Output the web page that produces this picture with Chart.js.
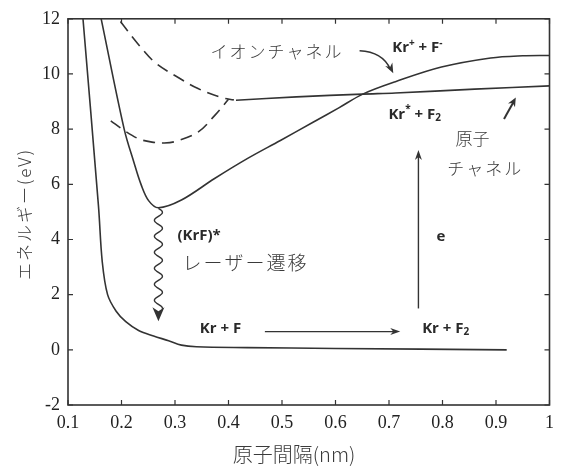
<!DOCTYPE html>
<html lang="ja">
<head>
<meta charset="utf-8">
<title>KrF ポテンシャル曲線</title>
<script src="https://cdn.jsdelivr.net/npm/chart.js@4.4.1/dist/chart.umd.min.js"></script>
<style>
  html, body { margin: 0; padding: 0; background: #fff; }
  #wrap { width: 561px; height: 467px; }
</style>
</head>
<body>
<div id="wrap"><canvas id="chart" width="561" height="467"></canvas></div>
<script>
// values: x = atomic distance (nm), y = energy (eV)
const xTicks = [0.1, 0.2, 0.3, 0.4, 0.5, 0.6, 0.7, 0.8, 0.9, 1];
const yTicks = [-2, 0, 2, 4, 6, 8, 10, 12];

// Kr + F ground state (repulsive)
const groundX = [0.128, 0.157, 0.164, 0.174, 0.19, 0.208, 0.232, 0.26, 0.288, 0.312, 0.34, 0.435, 0.6, 0.92];
const groundY = [12, 5.2, 3.2, 2.0, 1.4, 1.02, 0.7, 0.5, 0.33, 0.17, 0.11, 0.08, 0.05, 0.0];

// (KrF)* ionic curve
const ionX = [0.162, 0.205, 0.223, 0.237, 0.251, 0.269, 0.312, 0.374, 0.435, 0.497, 0.558, 0.607, 0.651, 0.712, 0.798, 0.89, 0.95, 1.0];
const ionY = [12, 8.0, 6.81, 5.97, 5.4, 5.15, 5.43, 6.21, 6.93, 7.59, 8.25, 8.78, 9.27, 9.72, 10.25, 10.58, 10.66, 10.67];

// Kr* + F2 atomic channel (solid part)
const atomX = [0.414, 0.527, 0.651, 0.712, 0.86, 1.0];
const atomY = [9.05, 9.17, 9.27, 9.31, 9.45, 9.57];

// dashed curves
const dashUpX = [0.198, 0.232, 0.263, 0.306, 0.343, 0.386, 0.41];
const dashUpY = [11.9, 11.06, 10.41, 9.87, 9.47, 9.15, 9.06];
const dashLowX = [0.18, 0.205, 0.232, 0.257, 0.28, 0.3, 0.343, 0.374, 0.4];
const dashLowY = [8.3, 7.95, 7.65, 7.53, 7.5, 7.55, 7.89, 8.49, 9.08];

const INK = '#333333';
const JP = '"Noto Sans CJK JP", "Noto Sans", sans-serif';
const BOLD = 'bold 15px "Open Sans", "Liberation Sans", sans-serif';
const BOLD_SMALL = 'bold 10px "Open Sans", "Liberation Sans", sans-serif';

// tick labels use a Times-like face
Chart.defaults.font.family = "'Liberation Serif', 'Times New Roman', serif";
Chart.defaults.font.size = 18;
Chart.defaults.color = '#222';

function points(xs, ys) {
    return xs.map((x, i) => ({ x: x, y: ys[i] }));
}

function curve(xs, ys, dashed) {
    return {
        data: points(xs, ys),
        borderColor: INK,
        borderWidth: 1.6,
        borderDash: dashed ? [12, 7] : [],
        pointRadius: 0,
        tension: 0.35,
        fill: false
    };
}

/**
 * Draw a filled arrow head with its tip at (x, y)
 */
function arrowHead(ctx, x, y, angle, len, half) {
    ctx.save();
    ctx.translate(x, y);
    ctx.rotate(angle);
    ctx.beginPath();
    ctx.moveTo(0, 0);
    ctx.lineTo(-len, -half);
    ctx.lineTo(-len * 0.7, 0);
    ctx.lineTo(-len, half);
    ctx.closePath();
    ctx.fill();
    ctx.restore();
}

/**
 * Bold label with superscripts / subscripts, centred on (cx, cy)
 */
function richText(ctx, parts, cx, cy) {
    let w = 0;
    parts.forEach(p => {
        ctx.font = (p.sup || p.sub) ? BOLD_SMALL : BOLD;
        w += ctx.measureText(p.t).width;
    });
    let x = cx - w / 2;
    ctx.textAlign = 'left';
    ctx.textBaseline = 'middle';
    parts.forEach(p => {
        ctx.font = (p.sup || p.sub) ? BOLD_SMALL : BOLD;
        const dy = p.sup ? -5 : (p.sub ? 4 : 0);
        ctx.fillText(p.t, x, cy + dy);
        x += ctx.measureText(p.t).width;
    });
}

function jpText(ctx, text, cx, cy, size, spacing) {
    ctx.font = '300 ' + size + 'px ' + JP;
    ctx.letterSpacing = spacing + 'px';
    ctx.textAlign = 'center';
    ctx.textBaseline = 'middle';
    ctx.fillText(text, cx + spacing / 2, cy);
    ctx.letterSpacing = '0px';
}

const figurePlugin = {
    id: 'figure',
    afterDatasetsDraw(chart) {
        const ctx = chart.ctx;
        const { left, right, top, bottom } = chart.chartArea;
        const sx = chart.scales.x, sy = chart.scales.y;
        const P = (x, y) => [sx.getPixelForValue(x), sy.getPixelForValue(y)];

        ctx.save();
        ctx.strokeStyle = INK;
        ctx.fillStyle = INK;

        // frame with inward ticks on all four sides
        ctx.lineWidth = 1.6;
        ctx.strokeRect(left, top, right - left, bottom - top);
        ctx.lineWidth = 1.2;
        ctx.beginPath();
        xTicks.forEach(v => {
            const x = sx.getPixelForValue(v);
            ctx.moveTo(x, bottom); ctx.lineTo(x, bottom - 5);
            ctx.moveTo(x, top); ctx.lineTo(x, top + 5);
        });
        yTicks.forEach(v => {
            const y = sy.getPixelForValue(v);
            ctx.moveTo(left, y); ctx.lineTo(left + 5, y);
            ctx.moveTo(right, y); ctx.lineTo(right - 5, y);
        });
        ctx.stroke();

        // wavy laser transition arrow
        const [wx, wTop] = P(0.269, 5.13);
        const [, wTip] = P(0.269, 1.04);
        const headLen = 14;
        ctx.lineWidth = 1.4;
        ctx.beginPath();
        for (let y = wTop; y <= wTip - headLen + 2; y += 0.5) {
            const x = wx + 4 * Math.sin((y - wTop) / 16 * 2 * Math.PI);
            if (y === wTop) ctx.moveTo(x, y); else ctx.lineTo(x, y);
        }
        ctx.stroke();
        arrowHead(ctx, wx, wTip, Math.PI / 2, headLen, 6);

        // vertical arrow (e)
        const [ex, eLow] = P(0.755, 1.5);
        const [, eHigh] = P(0.755, 7.24);
        ctx.lineWidth = 1.4;
        ctx.beginPath();
        ctx.moveTo(ex, eLow); ctx.lineTo(ex, eHigh + 6);
        ctx.stroke();
        arrowHead(ctx, ex, eHigh, -Math.PI / 2, 10, 3.5);

        // horizontal arrow Kr + F -> Kr + F2
        const [hx0, hy] = P(0.468, 0.66);
        const [hx1] = P(0.721, 0.66);
        ctx.lineWidth = 1.2;
        ctx.beginPath();
        ctx.moveTo(hx0, hy); ctx.lineTo(hx1 - 6, hy);
        ctx.stroke();
        arrowHead(ctx, hx1, hy, 0, 10, 3.5);

        // curved arrow from イオンチャネル
        const [ax0, ay0] = P(0.645, 10.84);
        const [acx, acy] = P(0.688, 10.8);
        const [ax1, ay1] = P(0.708, 10.03);
        ctx.lineWidth = 1.5;
        ctx.beginPath();
        ctx.moveTo(ax0, ay0);
        ctx.quadraticCurveTo(acx, acy, ax1 - 3, ay1 - 4);
        ctx.stroke();
        arrowHead(ctx, ax1, ay1, Math.atan2(ay1 - acy, ax1 - acx), 10, 4);

        // short arrow from 原子チャネル
        const [bx0, by0] = P(0.915, 8.37);
        const [bx1, by1] = P(0.937, 9.15);
        ctx.lineWidth = 2;
        ctx.beginPath();
        ctx.moveTo(bx0, by0); ctx.lineTo(bx1 - 2, by1 + 4);
        ctx.stroke();
        arrowHead(ctx, bx1, by1, Math.atan2(by1 - by0, bx1 - bx0), 9, 4);

        // labels
        ctx.fillStyle = '#2a2a2a';
        richText(ctx, [{ t: 'Kr' }, { t: '+', sup: true }, { t: ' + F' }, { t: '-', sup: true }], ...P(0.753, 10.95));
        richText(ctx, [{ t: 'Kr' }, { t: '*', sup: true }, { t: ' + F' }, { t: '2', sub: true }], ...P(0.748, 8.54));
        richText(ctx, [{ t: '(KrF)*' }], ...P(0.345, 4.15));
        richText(ctx, [{ t: 'e' }], ...P(0.797, 4.1));
        richText(ctx, [{ t: 'Kr + F' }], ...P(0.385, 0.77));
        richText(ctx, [{ t: 'Kr + F' }, { t: '2', sub: true }], ...P(0.806, 0.77));

        ctx.fillStyle = '#3a3a3a';
        jpText(ctx, 'イオンチャネル', ...P(0.489, 10.8), 17, 2);
        jpText(ctx, '原子', ...P(0.856, 7.67), 17, 0);
        jpText(ctx, 'チャネル', ...P(0.878, 6.56), 17, 2);
        jpText(ctx, 'レーザー遷移', ...P(0.43, 3.15), 19, 2);

        // axis titles
        ctx.save();
        ctx.translate(25, 215);
        ctx.rotate(-Math.PI / 2);
        jpText(ctx, 'エネルギー(eV)', 0, 0, 17, 2);
        ctx.restore();
        jpText(ctx, '原子間隔(nm)', 294, 454, 20, 0);

        ctx.restore();
    }
};

new Chart(document.getElementById('chart'), {
    type: 'line',
    data: {
        datasets: [
            curve(groundX, groundY, false),
            curve(ionX, ionY, false),
            curve(atomX, atomY, false),
            curve(dashUpX, dashUpY, true),
            curve(dashLowX, dashLowY, true)
        ]
    },
    options: {
        responsive: false,
        animation: false,
        events: [],
        layout: { padding: { left: 0, right: 4, top: 16, bottom: 0 } },
        plugins: {
            legend: { display: false },
            tooltip: { enabled: false }
        },
        scales: {
            x: {
                type: 'linear',
                min: 0.1,
                max: 1,
                grid: { display: false, drawTicks: false },
                border: { display: false },
                afterBuildTicks: scale => { scale.ticks = xTicks.map(v => ({ value: v })); },
                afterFit: scale => { scale.height = 62; },
                ticks: {
                    autoSkip: false,
                    maxRotation: 0,
                    padding: 7,
                    callback: v => (v === 1 ? '1' : v.toFixed(1))
                }
            },
            y: {
                type: 'linear',
                min: -2,
                max: 12,
                grid: { display: false, drawTicks: false },
                border: { display: false },
                afterBuildTicks: scale => { scale.ticks = yTicks.map(v => ({ value: v })); },
                afterFit: scale => { scale.width = 68; },
                ticks: {
                    padding: 8,
                    callback: v => String(v)
                }
            }
        }
    },
    plugins: [figurePlugin]
});
</script>
</body>
</html>
